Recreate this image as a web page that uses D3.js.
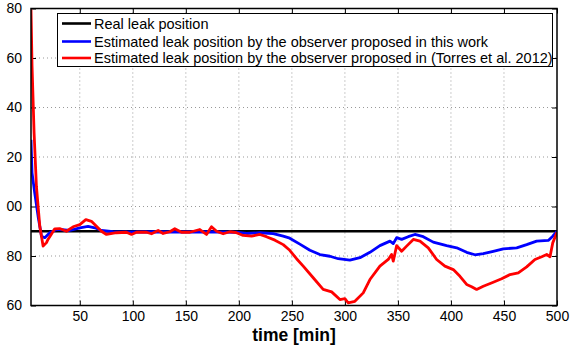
<!DOCTYPE html>
<html>
<head>
<meta charset="utf-8">
<script src="https://cdn.jsdelivr.net/npm/d3@7"></script>
<style>
  html, body { margin: 0; padding: 0; background: #fff; }
  svg { display: block; font-family: "Liberation Sans", Arial, Helvetica, sans-serif; }
</style>
</head>
<body>
<svg id="chart" width="570" height="345"></svg>
<script>
// ---- data ----
const realLeak = 90;
const timeRange = [4, 500];

const blueT = [4, 5, 7.5, 10.7, 13.9, 17, 21.7, 28, 31, 40.6, 50, 57.8, 64.2, 70.4, 81.4, 100, 120, 140, 160, 180, 197.8, 207.3, 220, 232.4, 241.8, 248, 257.5, 267, 276.4, 285.8, 293.7, 304.7, 314.2, 323.6, 333, 342.5, 345.6, 348.8, 353.5, 359.7, 366, 373.9, 383.3, 395.9, 405.4, 414.8, 422.6, 430.5, 439.9, 449.4, 462, 471.4, 480.8, 491.8, 496, 500];
const blueV = [127, 113.6, 105.5, 96, 88, 87.4, 89.4, 90.7, 90.7, 90.3, 91.4, 92, 91.4, 90.3, 89.8, 89.7, 89.8, 89.7, 89.8, 89.7, 89.6, 89.1, 89.4, 89, 88, 87.2, 84.8, 82.3, 80.6, 79.9, 78.9, 78.3, 79.3, 81.5, 84.2, 86, 85, 87.4, 86.7, 87.8, 88.7, 87.8, 85.6, 84.2, 83.3, 81.5, 80.5, 81, 81.9, 82.9, 83.3, 84.6, 86, 86.3, 88, 90];

const redT = [4, 5, 6.9, 9.1, 12.3, 15.4, 18.6, 20, 22, 26.4, 31, 37.4, 43.7, 50, 55.7, 61, 65.7, 70.4, 75.2, 84.6, 94, 98.8, 103.5, 113, 117.6, 123.9, 128.6, 134.9, 139.6, 145.9, 153.8, 163.2, 169.5, 174.2, 179, 185.2, 191.5, 197.8, 204, 212, 219.8, 226, 234, 241.8, 248, 254.4, 260.7, 270.1, 279.5, 287.5, 295.3, 300, 303, 309.4, 317.3, 323.6, 333, 340.9, 344, 345.6, 348.8, 353.5, 358.2, 364.5, 370.8, 378.6, 386.5, 394.3, 402.2, 408.5, 414.8, 419.5, 424.2, 430.5, 439.9, 447.8, 455.7, 463.5, 471.4, 479.2, 485.6, 490.3, 493.4, 496, 500];
const redV = [179.6, 156.7, 129.9, 108.2, 92, 84, 85.4, 86.7, 88, 91, 91.1, 90, 91.8, 92.7, 94.7, 94, 92, 90, 88.7, 89.4, 89.6, 88.7, 89.6, 89.6, 89, 90.3, 89.1, 89.8, 91, 89.6, 89.6, 90.7, 88.7, 91.8, 90, 89, 89.8, 89.4, 88.3, 88, 88.7, 87.8, 86.4, 84.6, 82.3, 78.9, 75.9, 71.2, 66.5, 65.5, 62.4, 62.8, 61.1, 61.7, 65.1, 70.5, 75.9, 78.6, 80.6, 77.9, 84.2, 81.9, 84, 86.7, 86, 83.3, 78.6, 75.9, 74.5, 71.8, 68.5, 67.6, 66.5, 67.8, 69.4, 70.8, 72.5, 73.2, 75.6, 78.6, 79.7, 80.6, 79.7, 85.3, 89.6];

const xTicks = [50, 100, 150, 200, 250, 300, 350, 400, 450, 500];
const yTicks = [180, 160, 140, 120, 100, 80, 60];
const yTickLabels = ["80", "60", "40", "20", "00", "80", "60"];

const legendLabels = [
  "Real leak position",
  "Estimated leak position by the observer proposed in this work",
  "Estimated leak position by the observer proposed in (Torres et al. 2012)"
];
const seriesColors = ["#000000", "#0000ff", "#ff0000"];

// ---- layout ----
const L = 31, R = 557, T = 8.5, B = 305.5;
const svg = d3.select("#chart");
const x = d3.scaleLinear().domain(timeRange).range([L, R]);
const y = d3.scaleLinear().domain([60, 180]).range([B, T]);

// grid
const grid = svg.append("g");
grid.selectAll(".gx").data(xTicks.filter(t => t < 500)).enter().append("line")
  .attr("x1", d => x(d)).attr("x2", d => x(d)).attr("y1", T).attr("y2", B)
  .attr("stroke", "#999").attr("stroke-width", 1).attr("stroke-dasharray", "1,3");
grid.selectAll(".gy").data(yTicks.filter(t => t > 60 && t < 180)).enter().append("line")
  .attr("y1", d => y(d)).attr("y2", d => y(d)).attr("x1", L).attr("x2", R)
  .attr("stroke", "#999").attr("stroke-width", 1).attr("stroke-dasharray", "1,3");

// axes (ticks inward)
const xAxisB = d3.axisBottom(x).tickValues(xTicks).tickSizeInner(-5).tickSizeOuter(0).tickPadding(6);
const xAxisT = d3.axisTop(x).tickValues(xTicks).tickSizeInner(-5).tickSizeOuter(0).tickFormat("");
const yAxisL = d3.axisLeft(y).tickValues(yTicks).tickSizeInner(-5).tickSizeOuter(0).tickPadding(9)
  .tickFormat((d, i) => yTickLabels[i]);
const yAxisR = d3.axisRight(y).tickValues(yTicks).tickSizeInner(-5).tickSizeOuter(0).tickFormat("");

function styleAxis(g) {
  g.select(".domain").remove();
  g.selectAll("line").attr("stroke", "#000").attr("stroke-width", 1);
  g.selectAll("text").attr("fill", "#000").style("font-size", "14px")
    .style("font-family", "'Liberation Sans', Arial, Helvetica, sans-serif");
}
svg.append("g").attr("transform", `translate(0,${B})`).call(xAxisB).call(styleAxis);
svg.append("g").attr("transform", `translate(0,${T})`).call(xAxisT).call(styleAxis);
svg.append("g").attr("transform", `translate(${L},0)`).call(yAxisL).call(styleAxis);
svg.append("g").attr("transform", `translate(${R},0)`).call(yAxisR).call(styleAxis);

// data lines
svg.append("clipPath").attr("id", "clip").append("rect")
  .attr("x", L).attr("y", T).attr("width", R - L).attr("height", B - T);
const plot = svg.append("g").attr("clip-path", "url(#clip)");
const line = d3.line().x(d => x(d[0])).y(d => y(d[1]));

plot.append("path").datum([[timeRange[0], realLeak], [timeRange[1], realLeak]])
  .attr("d", line).attr("fill", "none").attr("stroke", seriesColors[0]).attr("stroke-width", 2.6);
plot.append("path").datum(blueT.map((t, i) => [t, blueV[i]]))
  .attr("d", line).attr("fill", "none").attr("stroke", seriesColors[1]).attr("stroke-width", 2.8)
  .attr("stroke-linejoin", "round");
plot.append("path").datum(redT.map((t, i) => [t, redV[i]]))
  .attr("d", line).attr("fill", "none").attr("stroke", seriesColors[2]).attr("stroke-width", 2.8)
  .attr("stroke-linejoin", "round");

// frame
svg.append("rect").attr("x", L).attr("y", T).attr("width", R - L).attr("height", B - T)
  .attr("fill", "none").attr("stroke", "#000").attr("stroke-width", 1.5);

// legend
const lg = svg.append("g");
lg.append("rect").attr("x", 57.5).attr("y", 13.5).attr("width", 495).attr("height", 53)
  .attr("fill", "#fff").attr("stroke", "#000").attr("stroke-width", 1);
const rowY = [23.5, 41.5, 58];
legendLabels.forEach((lab, i) => {
  lg.append("line").attr("x1", 62).attr("x2", 91).attr("y1", rowY[i]).attr("y2", rowY[i])
    .attr("stroke", seriesColors[i]).attr("stroke-width", 2.6);
  lg.append("text").attr("x", 94).attr("y", rowY[i] + 5).text(lab)
    .style("font-size", "14.5px").attr("fill", "#000");
});

// x label
svg.append("text").attr("x", 294).attr("y", 341).attr("text-anchor", "middle")
  .style("font-size", "17.5px").style("font-weight", "bold").text("time [min]");
</script>
</body>
</html>
